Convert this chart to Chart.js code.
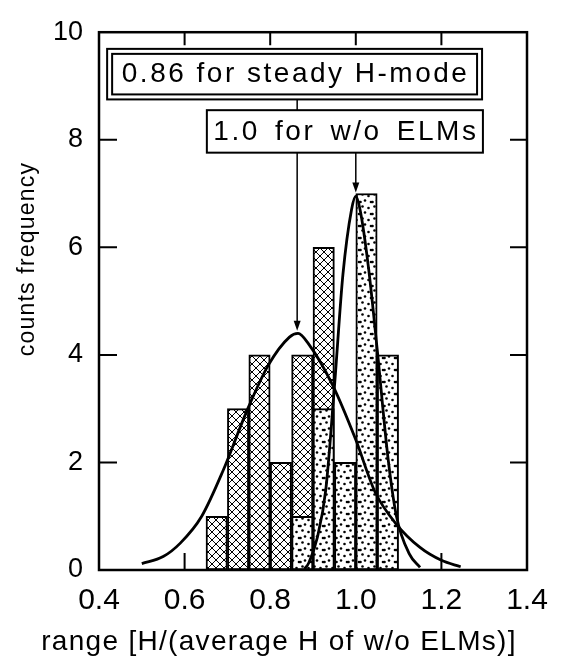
<!DOCTYPE html>
<html>
<head>
<meta charset="utf-8">
<script src="https://cdn.jsdelivr.net/npm/chart.js"></script>
<style>
  html, body { margin: 0; padding: 0; background: #fff; }
  #wrap { width: 568px; height: 668px; }
</style>
</head>
<body>
<div id="wrap"><canvas id="chart"></canvas></div>
<script>
// histogram bins (width 0.05) and counts
const bin_centers = [0.675, 0.725, 0.775, 0.825, 0.875, 0.925, 0.975, 1.025, 1.075];
const steady_counts = [1, 3, 4, 2, 4, 6, 0, 0, 0];
const wo_elms_counts = [0, 0, 0, 0, 1, 3, 2, 7, 4];

// fitted curves
const steady_fit_x = [0.50, 0.55, 0.59, 0.64, 0.69, 0.745, 0.795, 0.845, 0.865, 0.89, 0.945, 1.00, 1.045, 1.095, 1.15, 1.20, 1.245];
const steady_fit_y = [0.12, 0.25, 0.50, 1.00, 1.85, 2.95, 3.80, 4.33, 4.40, 4.20, 3.45, 2.42, 1.45, 0.85, 0.42, 0.18, 0.06];
const wo_elms_fit_x = [0.88, 0.89, 0.91, 0.93, 0.95, 0.97, 0.99, 1.00, 1.01, 1.03, 1.05, 1.075, 1.095, 1.125, 1.15];
const wo_elms_fit_y = [0.02, 0.13, 0.60, 1.50, 3.40, 5.50, 6.70, 6.95, 6.70, 5.60, 4.10, 2.10, 1.00, 0.30, 0.05];

const x_ticks = [0.4, 0.6, 0.8, 1.0, 1.2, 1.4];
const x_tick_labels = ['0.4', '0.6', '0.8', '1.0', '1.2', '1.4'];
const y_ticks = [0, 2, 4, 6, 8, 10];
const y_tick_labels = ['0', '2', '4', '6', '8', '10'];

const x_title = 'range [H/(average H of w/o ELMs)]';
const y_title = 'counts frequency';
const steady_note = '0.86 for steady H-mode';
const wo_elms_note = '1.0 for w/o ELMs';
const steady_peak = 0.863;
const wo_elms_peak = 1.0;

const FONT = '"Liberation Sans", Arial, sans-serif';

function hatchPattern() {
    const s = 8;
    const c = document.createElement('canvas');
    c.width = c.height = s;
    const g = c.getContext('2d');
    g.fillStyle = '#fff';
    g.fillRect(0, 0, s, s);
    g.strokeStyle = '#000';
    g.lineWidth = 1;
    g.beginPath();
    for (let k = -1; k <= 1; k++) {
        g.moveTo(k * s, 0); g.lineTo(k * s + s, s);
        g.moveTo(k * s + s, 0); g.lineTo(k * s, s);
    }
    g.stroke();
    return g.createPattern(c, 'repeat');
}

function dotPattern() {
    const s = 12;
    const c = document.createElement('canvas');
    c.width = c.height = s;
    const g = c.getContext('2d');
    g.fillStyle = '#fff';
    g.fillRect(0, 0, s, s);
    g.fillStyle = '#000';
    for (const [dx, dy] of [[2.5, 2.5], [8.5, 4], [5, 8.5], [11, 10], [0.5, 10]]) {
        g.beginPath();
        g.arc(dx, dy, 1.3, 0, Math.PI * 2);
        g.fill();
    }
    return g.createPattern(c, 'repeat');
}

const toPoints = (xs, ys) => xs.map((v, i) => ({x: v, y: ys[i]}));
const toBars = counts => bin_centers.map((v, i) => ({x: v, y: counts[i] > 0 ? counts[i] : null}));

const overlay = {
    id: 'overlay',
    beforeDatasetsDraw(chart) {
        const {ctx, chartArea: a, scales: {x, y}} = chart;
        ctx.save();
        ctx.strokeStyle = '#000';
        ctx.lineWidth = 2;
        ctx.beginPath();
        for (const t of x.ticks) {
            const px = x.getPixelForValue(t.value);
            if (px <= a.left + 1 || px >= a.right - 1) continue;
            ctx.moveTo(px, a.bottom); ctx.lineTo(px, a.bottom - 17);
            ctx.moveTo(px, a.top); ctx.lineTo(px, a.top + 13);
        }
        for (const t of y.ticks) {
            const py = y.getPixelForValue(t.value);
            if (py <= a.top + 1 || py >= a.bottom - 1) continue;
            ctx.moveTo(a.left, py); ctx.lineTo(a.left + 18, py);
            ctx.moveTo(a.right, py); ctx.lineTo(a.right - 17, py);
        }
        ctx.stroke();
        ctx.restore();
    },
    afterDatasetsDraw(chart) {
        const {ctx, chartArea: a, scales: {x, y}} = chart;
        ctx.save();
        ctx.strokeStyle = '#000';
        ctx.fillStyle = '#000';

        // frame
        ctx.lineWidth = 2.5;
        ctx.strokeRect(a.left, a.top, a.right - a.left, a.bottom - a.top);

        // note boxes
        const b1 = {l: x.getPixelForValue(0.419), r: x.getPixelForValue(1.295), t: y.getPixelForValue(9.69), b: y.getPixelForValue(8.75)};
        const b2 = {l: x.getPixelForValue(0.652), r: x.getPixelForValue(1.297), t: y.getPixelForValue(8.55), b: y.getPixelForValue(7.76)};

        ctx.fillStyle = '#fff';
        ctx.fillRect(b1.l, b1.t, b1.r - b1.l, b1.b - b1.t);
        ctx.fillRect(b2.l, b2.t, b2.r - b2.l, b2.b - b2.t);
        ctx.lineWidth = 2;
        ctx.strokeRect(b1.l, b1.t, b1.r - b1.l, b1.b - b1.t);
        ctx.strokeRect(b1.l + 5, b1.t + 5, b1.r - b1.l - 10, b1.b - b1.t - 10);
        ctx.strokeRect(b2.l, b2.t, b2.r - b2.l, b2.b - b2.t);

        ctx.fillStyle = '#000';
        ctx.textAlign = 'center';
        ctx.textBaseline = 'middle';
        ctx.font = '28px ' + FONT;
        ctx.letterSpacing = '2.5px';
        ctx.fillText(steady_note, (b1.l + b1.r) / 2 + 1, (b1.t + b1.b) / 2);
        ctx.wordSpacing = '5px';
        ctx.fillText(wo_elms_note, (b2.l + b2.r) / 2 + 1, (b2.t + b2.b) / 2 + 1);
        ctx.wordSpacing = '0px';

        // arrows
        const arrow = (px, y0, y1) => {
            ctx.lineWidth = 1.5;
            ctx.beginPath();
            ctx.moveTo(px, y0);
            ctx.lineTo(px, y1 - 8);
            ctx.stroke();
            ctx.beginPath();
            ctx.moveTo(px, y1);
            ctx.lineTo(px - 3.5, y1 - 10);
            ctx.lineTo(px + 3.5, y1 - 10);
            ctx.closePath();
            ctx.fill();
        };
        const ax1 = x.getPixelForValue(steady_peak);
        ctx.lineWidth = 1.5;
        ctx.beginPath();
        ctx.moveTo(ax1, b1.b);
        ctx.lineTo(ax1, b2.t);
        ctx.stroke();
        arrow(ax1, b2.b, y.getPixelForValue(4.45));
        arrow(x.getPixelForValue(wo_elms_peak), b2.b, y.getPixelForValue(7.02));

        // axis titles
        ctx.textBaseline = 'alphabetic';
        ctx.font = '28px ' + FONT;
        ctx.letterSpacing = '1.3px';
        ctx.fillText(x_title, 279, 650);

        ctx.translate(34, 259);
        ctx.rotate(-Math.PI / 2);
        ctx.font = '23px ' + FONT;
        ctx.letterSpacing = '1.2px';
        ctx.fillText(y_title, 0, 0);
        ctx.restore();
    }
};

new Chart(document.getElementById('chart'), {
    type: 'bar',
    data: {
        datasets: [
            {
                type: 'line',
                label: 'steady H-mode fit',
                data: toPoints(steady_fit_x, steady_fit_y),
                borderColor: '#000',
                borderWidth: 2.8,
                pointRadius: 0,
                fill: false,
                cubicInterpolationMode: 'monotone',
                order: 0
            },
            {
                type: 'line',
                label: 'w/o ELMs fit',
                data: toPoints(wo_elms_fit_x, wo_elms_fit_y),
                borderColor: '#000',
                borderWidth: 2.8,
                pointRadius: 0,
                fill: false,
                cubicInterpolationMode: 'monotone',
                order: 0
            },
            {
                label: 'w/o ELMs',
                data: toBars(wo_elms_counts),
                backgroundColor: dotPattern(),
                borderColor: '#000',
                borderWidth: 2,
                borderSkipped: false,
                grouped: false,
                barPercentage: 1,
                categoryPercentage: 1,
                order: 1
            },
            {
                label: 'steady H-mode',
                data: toBars(steady_counts),
                backgroundColor: hatchPattern(),
                borderColor: '#000',
                borderWidth: 2,
                borderSkipped: false,
                grouped: false,
                barPercentage: 1,
                categoryPercentage: 1,
                order: 2
            }
        ]
    },
    options: {
        responsive: true,
        maintainAspectRatio: false,
        animation: false,
        events: [],
        layout: { padding: { top: 21, right: 41, left: 0, bottom: 0 } },
        plugins: {
            legend: { display: false },
            tooltip: { enabled: false }
        },
        scales: {
            x: {
                type: 'linear',
                min: 0.4,
                max: 1.4,
                offset: false,
                grid: { display: false, drawTicks: false, offset: false },
                border: { display: false },
                afterBuildTicks: scale => { scale.ticks = x_ticks.map(v => ({value: v})); },
                afterFit: scale => { scale.height = 98; },
                ticks: {
                    padding: 13,
                    color: '#000',
                    font: { family: FONT, size: 30 },
                    maxRotation: 0,
                    callback: (value, index) => x_tick_labels[index]
                }
            },
            y: {
                type: 'linear',
                min: 0,
                max: 10,
                grid: { display: false, drawTicks: false },
                border: { display: false },
                afterBuildTicks: scale => { scale.ticks = y_ticks.map(v => ({value: v})); },
                afterFit: scale => { scale.width = 99; },
                ticks: {
                    padding: 16,
                    color: '#000',
                    font: { family: FONT, size: 27 },
                    callback: (value, index) => y_tick_labels[index]
                }
            }
        }
    },
    plugins: [overlay]
});
</script>
</body>
</html>
